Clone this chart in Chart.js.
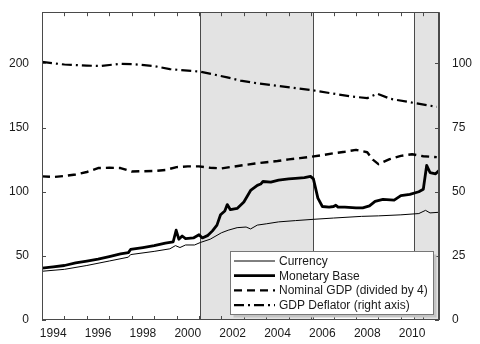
<!DOCTYPE html>
<html>
<head>
<meta charset="utf-8">
<script src="https://cdn.jsdelivr.net/npm/chart.js@4"></script>
<style>
  html, body { margin: 0; padding: 0; background: #fff; }
  #wrap { width: 480px; height: 344px; }
</style>
</head>
<body>
<div id="wrap"><canvas id="myChart" width="480" height="344"></canvas></div>
<script>
// monetary base (left axis)
var baseYears = [1994.0, 1994.5, 1995.0, 1995.5, 1996.0, 1996.5, 1997.0, 1997.5, 1997.85, 1997.95,
  1998.5, 1999.0, 1999.5, 1999.85, 1999.98, 2000.1, 2000.25, 2000.4, 2000.75, 2001.0,
  2001.15, 2001.4, 2001.6, 2001.8, 2001.96, 2002.15, 2002.26, 2002.4, 2002.7, 2003.0,
  2003.3, 2003.6, 2003.75, 2003.85, 2004.2, 2004.55, 2005.0, 2005.3, 2005.7, 2005.97,
  2006.1, 2006.3, 2006.5, 2006.8, 2007.0, 2007.1, 2007.2, 2007.5, 2008.0, 2008.3,
  2008.6, 2008.85, 2009.2, 2009.7, 2010.0, 2010.4, 2010.8, 2011.0, 2011.15, 2011.3,
  2011.55, 2011.7];
var baseValues = [40.5, 41.5, 42.5, 44.5, 46, 47.5, 49.5, 51.5, 52.5, 55,
  56.5, 58, 60, 61, 70, 63, 65.5, 63.5, 64, 66.5,
  64, 66, 69.5, 74, 82, 85, 90, 86, 87, 92,
  101, 105, 106, 108, 107.5, 109, 110, 110.5, 111, 112,
  110, 95, 88.5, 88, 88.5, 89.5, 88, 88, 87.5, 87.5,
  89, 92.5, 94, 93.5, 97, 98, 100, 102, 120.5, 115,
  114, 116.5];

// currency (left axis)
var currYears = [1994.0, 1995.0, 1996.0, 1997.0, 1997.85, 1997.95, 1999.0, 1999.7, 1999.95, 2000.15,
  2000.4, 2000.8, 2001.07, 2001.5, 2002.0, 2002.3, 2002.7, 2003.1, 2003.3, 2003.6,
  2004.0, 2004.55, 2005.3, 2006.1, 2007.0, 2008.25, 2009.0, 2010.0, 2010.8, 2011.1,
  2011.3, 2011.7];
var currValues = [38, 39.5, 42.5, 46, 49, 51, 53.5, 55.5, 58, 56.5,
  58.5, 58.5, 60.5, 63, 68, 70, 72, 72.5, 71, 74,
  75, 76.5, 77.5, 78.5, 79.5, 80.8, 81.2, 82, 83, 85.5,
  83.5, 84];

// nominal GDP divided by 4 (left axis)
var gdpYears = [1994.0, 1994.5, 1995.0, 1995.5, 1996.0, 1996.5, 1997.0, 1997.5, 1998.0, 1998.5,
  1999.0, 1999.5, 2000.0, 2000.5, 2001.0, 2001.5, 2002.0, 2002.5, 2003.0, 2003.5,
  2004.0, 2004.5, 2005.0, 2005.5, 2006.0, 2006.5, 2007.0, 2007.5, 2008.0, 2008.5,
  2008.75, 2009.0, 2009.25, 2009.5, 2010.0, 2010.5, 2011.0, 2011.6];
var gdpValues = [112, 111.5, 112.3, 113.5, 115.4, 118.5, 118.7, 118.5, 115.8, 116,
  116.2, 117, 119.2, 119.8, 119.8, 118.7, 118.2, 119.5, 120.8, 122,
  123, 124, 125.2, 126.2, 127.3, 128.5, 130, 131.2, 132.7, 130.8,
  125, 121.5, 123.5, 125.4, 128, 129.2, 127.7, 127];

// GDP deflator (right axis)
var deflYears = [1994.0, 1995.0, 1996.0, 1996.6, 1997.5, 1998.1, 1999.0, 1999.7, 2001.07, 2002.26,
  2002.85, 2003.6, 2005.1, 2006.1, 2007.75, 2008.5, 2008.95, 2009.55, 2010.6, 2011.6];
var deflValues = [100.6, 99.6, 99.2, 99, 99.9, 99.7, 99, 97.8, 96.8, 94.6,
  93.3, 92.3, 90.6, 89.5, 87.2, 86.5, 88.2, 86.2, 84.6, 83.1];

// shaded periods
var shadeStart = [2001.05, 2010.6];
var shadeEnd = [2006.1, 2011.7];

var xMin = 1994, xMax = 2011.7;
var xLabelYears = [1994, 1996, 1998, 2000, 2002, 2004, 2006, 2008, 2010];
var xTickYears = [1995, 1996, 1997, 1998, 1999, 2000, 2001, 2002, 2003, 2004, 2005, 2006, 2007, 2008, 2009, 2010, 2011];
var leftTicks = [0, 50, 100, 150, 200];
var rightTicks = [0, 25, 50, 75, 100];

var legendLabels = ['Currency', 'Monetary Base', 'Nominal GDP (divided by 4)', 'GDP Deflator (right axis)'];

function pts(xs, ys) {
  return xs.map(function (x, i) { return { x: x, y: ys[i] }; });
}

var FONT = "'Liberation Sans', Arial, sans-serif";
var FRAME = '#4a4a4a';

var decorations = {
  id: 'decorations',
  beforeDatasetsDraw: function (chart) {
    var ctx = chart.ctx, a = chart.chartArea, xs = chart.scales.x;
    ctx.save();
    for (var i = 0; i < shadeStart.length; i++) {
      var x0 = xs.getPixelForValue(shadeStart[i]);
      var x1 = xs.getPixelForValue(shadeEnd[i]);
      ctx.fillStyle = '#e3e3e3';
      ctx.fillRect(x0, a.top, x1 - x0, a.bottom - a.top);
      ctx.strokeStyle = FRAME;
      ctx.lineWidth = 1;
      ctx.beginPath();
      ctx.moveTo(Math.round(x0) + 0.5, a.top);
      ctx.lineTo(Math.round(x0) + 0.5, a.bottom);
      ctx.moveTo(Math.round(x1) + 0.5, a.top);
      ctx.lineTo(Math.round(x1) + 0.5, a.bottom);
      ctx.stroke();
    }
    ctx.restore();
  },
  afterDatasetsDraw: function (chart) {
    var ctx = chart.ctx, a = chart.chartArea;
    var xs = chart.scales.x, yl = chart.scales.y, yr = chart.scales.y2;
    ctx.save();
    // inward tick marks
    ctx.strokeStyle = FRAME;
    ctx.lineWidth = 1;
    ctx.beginPath();
    xTickYears.forEach(function (v) {
      var px = Math.round(xs.getPixelForValue(v)) + 0.5;
      ctx.moveTo(px, a.bottom); ctx.lineTo(px, a.bottom - 4);
      ctx.moveTo(px, a.top); ctx.lineTo(px, a.top + 4);
    });
    leftTicks.forEach(function (v) {
      var py = Math.round(yl.getPixelForValue(v)) + 0.5;
      ctx.moveTo(a.left, py); ctx.lineTo(a.left + 4, py);
    });
    rightTicks.forEach(function (v) {
      var py = Math.round(yr.getPixelForValue(v)) + 0.5;
      ctx.moveTo(a.right, py); ctx.lineTo(a.right - 4, py);
    });
    ctx.stroke();
    // frame
    ctx.strokeRect(Math.round(a.left) + 0.5, Math.round(a.top) + 0.5,
      Math.round(a.right - a.left) - 1, Math.round(a.bottom - a.top) - 1);

    // legend box
    var bx = 230.5, by = 251.5, bw = 203, bh = 63;
    ctx.fillStyle = '#c4c4c4';
    ctx.fillRect(bx + 3, by + 3, bw, bh);
    ctx.fillStyle = '#ffffff';
    ctx.fillRect(bx, by, bw, bh);
    ctx.strokeStyle = '#777777';
    ctx.strokeRect(bx, by, bw, bh);

    var ds = chart.data.datasets;
    ctx.font = '12px ' + FONT;
    ctx.textBaseline = 'middle';
    ctx.textAlign = 'left';
    for (var i = 0; i < ds.length; i++) {
      var ly = 261 + i * 14.7;
      ctx.strokeStyle = '#000';
      ctx.lineWidth = ds[i].borderWidth;
      ctx.setLineDash(ds[i].borderDash || []);
      ctx.beginPath();
      ctx.moveTo(234, ly);
      ctx.lineTo(275, ly);
      ctx.stroke();
      ctx.setLineDash([]);
      ctx.fillStyle = '#1a1a1a';
      ctx.fillText(legendLabels[i], 279, ly + 0.5);
    }
    ctx.restore();
  }
};

new Chart(document.getElementById('myChart').getContext('2d'), {
  type: 'line',
  data: {
    datasets: [
      { label: legendLabels[0], data: pts(currYears, currValues), borderColor: '#000', borderWidth: 1, yAxisID: 'y' },
      { label: legendLabels[1], data: pts(baseYears, baseValues), borderColor: '#000', borderWidth: 2.8, yAxisID: 'y' },
      { label: legendLabels[2], data: pts(gdpYears, gdpValues), borderColor: '#000', borderWidth: 2.4, borderDash: [8, 5], yAxisID: 'y' },
      { label: legendLabels[3], data: pts(deflYears, deflValues), borderColor: '#000', borderWidth: 2.2, borderDash: [10, 4, 2, 4], yAxisID: 'y2' }
    ]
  },
  options: {
    responsive: false,
    animation: false,
    layout: { padding: { top: 8, left: 0, right: 0, bottom: 0 } },
    elements: { point: { radius: 0 }, line: { tension: 0, borderJoinStyle: 'round' } },
    plugins: { legend: { display: false }, tooltip: { enabled: false } },
    scales: {
      x: {
        type: 'linear',
        min: xMin,
        max: xMax,
        grid: { display: false },
        border: { display: false },
        afterBuildTicks: function (scale) {
          scale.ticks = xLabelYears.map(function (v) { return { value: v + 0.5 }; });
        },
        afterFit: function (scale) { scale.height = 24; },
        ticks: {
          autoSkip: false,
          maxRotation: 0,
          padding: -2,
          color: '#1a1a1a',
          font: { family: FONT, size: 12 },
          callback: function (v) { return String(Math.floor(v)); }
        }
      },
      y: {
        position: 'left',
        min: 0,
        max: 240,
        grid: { display: false },
        border: { display: false },
        afterBuildTicks: function (scale) {
          scale.ticks = leftTicks.map(function (v) { return { value: v }; });
        },
        afterFit: function (scale) { scale.width = 42; },
        ticks: { padding: 5, color: '#1a1a1a', font: { family: FONT, size: 12 } }
      },
      y2: {
        position: 'right',
        min: 0,
        max: 120,
        grid: { display: false },
        border: { display: false },
        afterBuildTicks: function (scale) {
          scale.ticks = rightTicks.map(function (v) { return { value: v }; });
        },
        afterFit: function (scale) { scale.width = 41; },
        ticks: { padding: 5, color: '#1a1a1a', font: { family: FONT, size: 12 } }
      }
    }
  },
  plugins: [decorations]
});
</script>
</body>
</html>
